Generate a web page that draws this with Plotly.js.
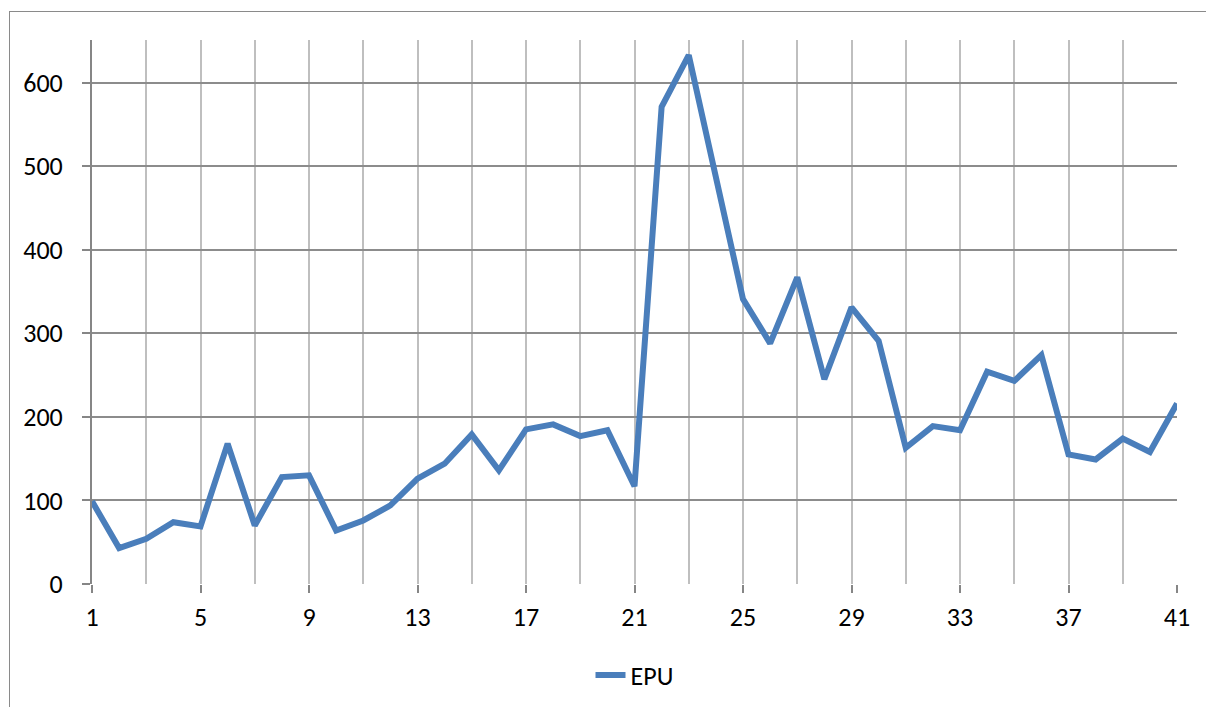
<!DOCTYPE html>
<html>
<head>
<meta charset="utf-8">
<script src="https://cdn.plot.ly/plotly-3.0.1.min.js"></script>
<style>
  html, body { margin: 0; padding: 0; background: #fff; overflow: hidden; }
  #chart { width: 1206px; height: 707px; }
  #frame { position: absolute; left: 9px; top: 11px; width: 1300px; height: 800px;
           border: 1px solid #8a8a8a; pointer-events: none; }
</style>
</head>
<body>
<div id="chart"></div>
<div id="frame"></div>
<script>
const periods = Array.from({length: 41}, (_, i) => i + 1);
const seriesName = "EPU";
const epuValues = [
  99, 43, 54, 74, 69, 168, 70, 128, 130, 64,
  76, 94, 126, 144, 179, 136, 185, 191, 177, 184,
  117, 571, 633, 488, 341, 288, 367, 245, 331, 291,
  163, 189, 184, 254, 243, 274, 155, 149, 174, 158,
  216
];

const font = {family: "Carlito, Calibri, 'Liberation Sans', Arial, sans-serif", size: 26, color: "#000"};

Plotly.newPlot("chart", [{
  x: periods,
  y: epuValues,
  type: "scatter",
  mode: "lines",
  name: seriesName,
  line: {color: "#4a7ebb", width: 6}
}], {
  width: 1206, height: 707,
  margin: {l: 92, r: 29, t: 40, b: 123},
  paper_bgcolor: "#fff",
  plot_bgcolor: "#fff",
  font: font,
  showlegend: true,
  legend: {orientation: "h", x: 0.5, xanchor: "center",
           yref: "container", y: 32 / 707, yanchor: "middle",
           font: font},
  xaxis: {
    range: [1, 41],
    tick0: 1, dtick: 4,
    showgrid: true, gridcolor: "#bfbfbf", gridwidth: 2,
    minor: {tick0: 1, dtick: 2, showgrid: true, gridcolor: "#bfbfbf", gridwidth: 2, ticks: ""},
    ticks: "outside", ticklen: 8, tickcolor: "#868686", tickwidth: 2,
    ticklabelstandoff: 2,
    showline: false, zeroline: false,
    automargin: false,
    tickfont: font
  },
  yaxis: {
    range: [0, 651],
    tick0: 0, dtick: 100,
    showgrid: true, gridcolor: "#8c8c8c", gridwidth: 2,
    ticks: "outside", ticklen: 8, tickcolor: "#868686", tickwidth: 2,
    ticklabelstandoff: 14,
    showline: true, linecolor: "#868686", linewidth: 2,
    zeroline: false,
    automargin: false,
    tickfont: font
  }
}, {displayModeBar: false, staticPlot: true});
</script>
</body>
</html>
